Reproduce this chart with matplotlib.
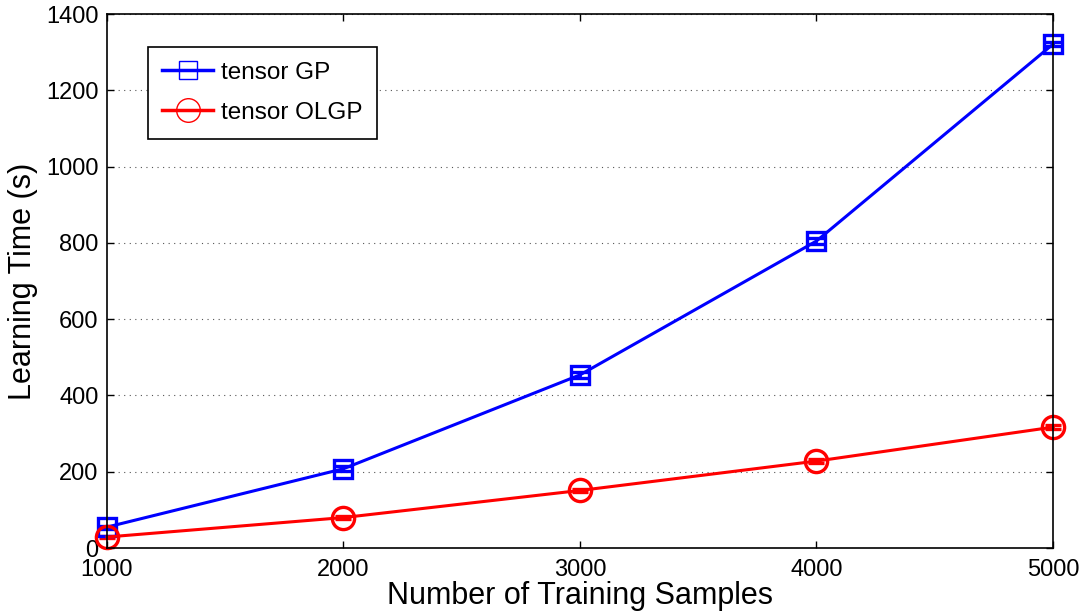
import matplotlib
matplotlib.use("Agg")
import matplotlib.pyplot as plt
from matplotlib.lines import Line2D

samples = [1000, 2000, 3000, 4000, 5000]
gp_time = [55, 208, 454, 805, 1321]
gp_err = [4, 6, 8, 8, 6]
olgp_time = [29, 80, 151, 228, 317]
olgp_err = [3, 4, 5, 5, 5]

plt.rcParams['font.family'] = ['Liberation Sans', 'DejaVu Sans']

fig = plt.figure(figsize=(10.84, 6.11), dpi=100)
ax = fig.add_axes([0.0987, 0.103, 0.8727, 0.874])

ax.errorbar(samples, gp_time, yerr=gp_err, color='#0000ff', lw=2.2,
            marker='s', ms=13, mfc='none', mec='#0000ff', mew=2.4,
            capsize=6, elinewidth=2, capthick=2, label='tensor GP', clip_on=False)
ax.errorbar(samples, olgp_time, yerr=olgp_err, color='#ff0000', lw=2.2,
            marker='o', ms=16, mfc='none', mec='#ff0000', mew=2.4,
            capsize=6, elinewidth=2, capthick=2, label='tensor OLGP', clip_on=False)

ax.set_xlim(1000, 5000)
ax.set_ylim(0, 1400)
ax.set_xticks([1000, 2000, 3000, 4000, 5000])
ax.set_yticks(range(0, 1401, 200))
ax.tick_params(direction='in', labelsize=17, length=5, width=1, top=True, right=True)
ax.tick_params(axis='x', pad=8)
ax.tick_params(axis='y', pad=6)
ax.yaxis.grid(True, linestyle=(0, (1, 4)), color='#555555', lw=0.8)
ax.set_xlabel('Number of Training Samples', fontsize=22, labelpad=0)
ax.set_ylabel('Learning Time (s)', fontsize=22, labelpad=6)
for s in ax.spines.values():
    s.set_linewidth(1.2)

handles = [Line2D([], [], color='#0000ff', lw=2.5, marker='s', ms=13, mfc='none', mec='#0000ff', mew=1),
           Line2D([], [], color='#ff0000', lw=2.5, marker='o', ms=17, mfc='none', mec='#ff0000', mew=1)]
leg = ax.legend(handles, ['tensor GP', 'tensor OLGP'], loc='upper left',
                bbox_to_anchor=(0.043, 0.938), borderaxespad=0, fontsize=17.5,
                fancybox=False, edgecolor='black', framealpha=1,
                handlelength=2.1, handletextpad=0.3, borderpad=0.6,
                labelspacing=0.75)
leg.get_frame().set_linewidth(1.2)

fig.savefig('out.png', dpi=100)
